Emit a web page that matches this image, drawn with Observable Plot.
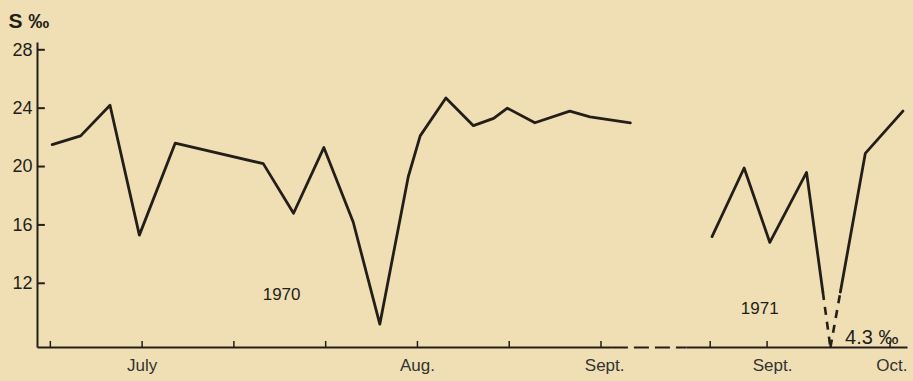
<!DOCTYPE html>
<html><head><meta charset="utf-8">
<script src="https://cdn.jsdelivr.net/npm/d3@7"></script>
<script src="https://cdn.jsdelivr.net/npm/@observablehq/plot@0.6"></script>
<style>
html,body{margin:0;padding:0;background:#f0dfb4;}
#chart svg{display:block;}
</style></head><body><div id="chart"></div>
<script>
// x unit: one tick interval (about ten days); 0 = first tick of 1970
const t1970 = [0.02,0.33,0.65,0.97,1.36,2.32,2.65,2.98,3.30,3.59,3.90,4.03,4.31,4.61,4.83,4.98,5.28,5.66,5.88,6.32];
const s1970 = [21.5,22.1,24.2,15.3,21.6,20.2,16.8,21.3,16.2,9.2,19.3,22.1,24.7,22.8,23.3,24.0,23.0,23.8,23.4,23.0];
const t1971 = [7.21,7.56,7.84,8.24,8.50,8.88,9.29];
const s1971 = [15.2,19.9,14.8,19.6,4.3,20.9,23.8];

const yTicks = [12,16,20,24,28];
const xTicks = [0,1,2,3,4,5,6,7.19,7.81,9.15];
const xLabelPos = [1,4,6.04,7.87,9.17];
const xLabels = ["July","Aug.","Sept.","Sept.","Oct."];
const yearLabels = ["1970","1971"];
const yearPos = [[2.52,11.2],[7.73,10.3]];
const offScaleNote = "4.3 ‰";
const offScalePos = [8.66,8.3];
const axisSolid = [[-0.14,6.13],[6.93,9.34]];
const axisBreak = [6.13,6.93];

const xMin = -0.14, xMax = 9.34, yMin = 7.6, yMax = 28.5;
const breakV = 11.4; // below this the 1971 dip is drawn dashed (off-scale)

const ink = "#241e19";
const d70 = t1970.map((t,i)=>({t, s:s1970[i]}));
const d71 = t1971.map((t,i)=>({t, s:Math.max(s1971[i], yMin)}));

// split 1971 series into solid runs and dashed pieces where it falls off scale
const solidRuns = []; const dashed = [];
let run = [d71[0]];
for (let i=1;i<d71.length;i++){
  const a=d71[i-1], b=d71[i];
  const aLow = a.s < breakV, bLow = b.s < breakV;
  if (!aLow && !bLow){ run.push(b); continue; }
  const f = (breakV - a.s)/(b.s - a.s);
  const p = {t: a.t + f*(b.t-a.t), s: breakV};
  if (!aLow && bLow){ run.push(p); solidRuns.push(run); run=null; dashed.push({t1:p.t,s1:p.s,t2:b.t,s2:b.s}); }
  else if (aLow && !bLow){ dashed.push({t1:a.t,s1:a.s,t2:p.t,s2:p.s}); run=[p,b]; }
}
if (run) solidRuns.push(run);
const solid71 = solidRuns.flatMap((r,k)=>r.map(d=>({...d,k})));

const chart = Plot.plot({
  width: 913, height: 381,
  marginLeft: 37, marginRight: 6, marginTop: 42, marginBottom: 34,
  style: {background: "#f0dfb4", fontFamily: "Liberation Sans, Arial, sans-serif", color: ink},
  x: {domain: [xMin, xMax], axis: null},
  y: {domain: [yMin, yMax], axis: null},
  marks: [
    // y axis line and inward ticks
    Plot.link([0], {x1: xMin, x2: xMin, y1: yMin, y2: yMax, stroke: ink, strokeWidth: 2}),
    Plot.link(yTicks, {x1: xMin, x2: xMin + 0.08, y1: d=>d, y2: d=>d, stroke: ink, strokeWidth: 2}),
    Plot.text(yTicks, {x: xMin, y: d=>d, text: d=>String(d), dx: -5, textAnchor: "end", fontSize: 18, fill: ink}),
    // x axis (broken)
    Plot.link(axisSolid, {x1: d=>d[0], x2: d=>d[1], y1: yMin, y2: yMin, stroke: ink, strokeWidth: 2}),
    Plot.link([axisBreak], {x1: d=>d[0], x2: d=>d[1], y1: yMin, y2: yMin, stroke: ink, strokeWidth: 2, strokeDasharray: "15,6"}),
    Plot.link(xTicks, {x1: d=>d, x2: d=>d, y1: yMin, y2: yMin + 0.45, stroke: ink, strokeWidth: 1.5}),
    Plot.text(xLabels, {x: (d,i)=>xLabelPos[i], y: yMin, dy: 18, text: d=>d, fontSize: 17, fill: "#333", style: "letter-spacing:1.3px"}),
    // series
    Plot.line(d70, {x: "t", y: "s", stroke: ink, strokeWidth: 2.8, strokeLinejoin: "round", strokeLinecap: "round"}),
    Plot.line(solid71, {x: "t", y: "s", z: "k", stroke: ink, strokeWidth: 2.8, strokeLinejoin: "round", strokeLinecap: "round"}),
    Plot.link(dashed, {x1: "t1", y1: "s1", x2: "t2", y2: "s2", stroke: ink, strokeWidth: 2.6, strokeDasharray: "8,7"}),
    // annotations
    Plot.text(yearLabels, {x: (d,i)=>yearPos[i][0], y: (d,i)=>yearPos[i][1], text: d=>d, fontSize: 17, fill: ink}),
    Plot.text([offScaleNote], {x: offScalePos[0], y: offScalePos[1], text: d=>d, textAnchor: "start", fontSize: 20, fill: ink}),
    Plot.text(["S ‰"], {frameAnchor: "top-left", dx: -29, dy: -29, text: d=>d, textAnchor: "start", fontSize: 21, fontWeight: "bold", fill: ink})
  ]
});
document.getElementById("chart").appendChild(chart);
</script></body></html>
